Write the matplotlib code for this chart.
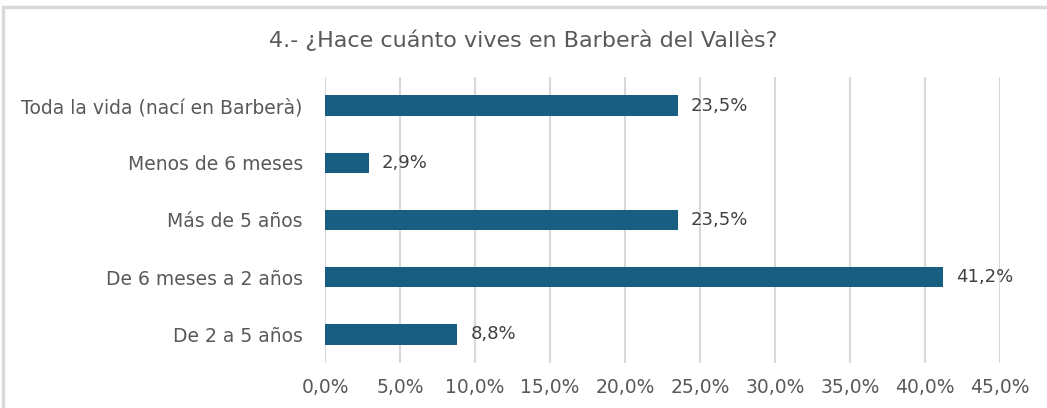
import matplotlib.pyplot as plt
from matplotlib.patches import Rectangle
import numpy as np

categories = ["De 2 a 5 años", "De 6 meses a 2 años", "Más de 5 años",
              "Menos de 6 meses", "Toda la vida (nací en Barberà)"]
values = [8.8, 41.2, 23.5, 2.9, 23.5]
ticks = np.arange(0, 50, 5)

plt.rcParams['font.family'] = ['DejaVu Sans']
grey = '#595959'

fig = plt.figure(figsize=(10.47, 4.08), dpi=100)
fig.patches.append(Rectangle((3 / 1047, -0.1), 1.2, 1.1 - 7 / 408,
                             transform=fig.transFigure, fill=False,
                             edgecolor='#D9D9D9', lw=2.5))
ax = fig.add_axes([325 / 1047, 1 - 363 / 408, 675 / 1047, 286 / 408])

y = np.arange(len(categories))
ax.barh(y, values, height=0.36, color='#175E82', zorder=3)
for yi, v in zip(y, values):
    ax.text(v + 0.9, yi, f"{v:.1f}%".replace('.', ','), va='center',
            ha='left', fontsize=13, color='#404040')

ax.set_xlim(0, 45)
ax.set_ylim(-0.5, len(categories) - 0.5)
ax.set_xticks(ticks)
ax.set_xticklabels([f"{t:.1f}%".replace('.', ',') for t in ticks])
ax.set_yticks(y)
ax.set_yticklabels(categories)
ax.tick_params(axis='both', length=0, labelsize=13.5, labelcolor=grey)
ax.tick_params(axis='x', pad=11)
ax.tick_params(axis='y', pad=16)
ax.grid(axis='x', color='#D9D9D9', lw=1.5, zorder=0)
for s in ax.spines.values():
    s.set_visible(False)

fig.text(0.5, 1 - 40 / 408, "4.- ¿Hace cuánto vives en Barberà del Vallès?",
         ha='center', va='center', fontsize=16, color=grey)

fig.savefig('out.png', dpi=100)
